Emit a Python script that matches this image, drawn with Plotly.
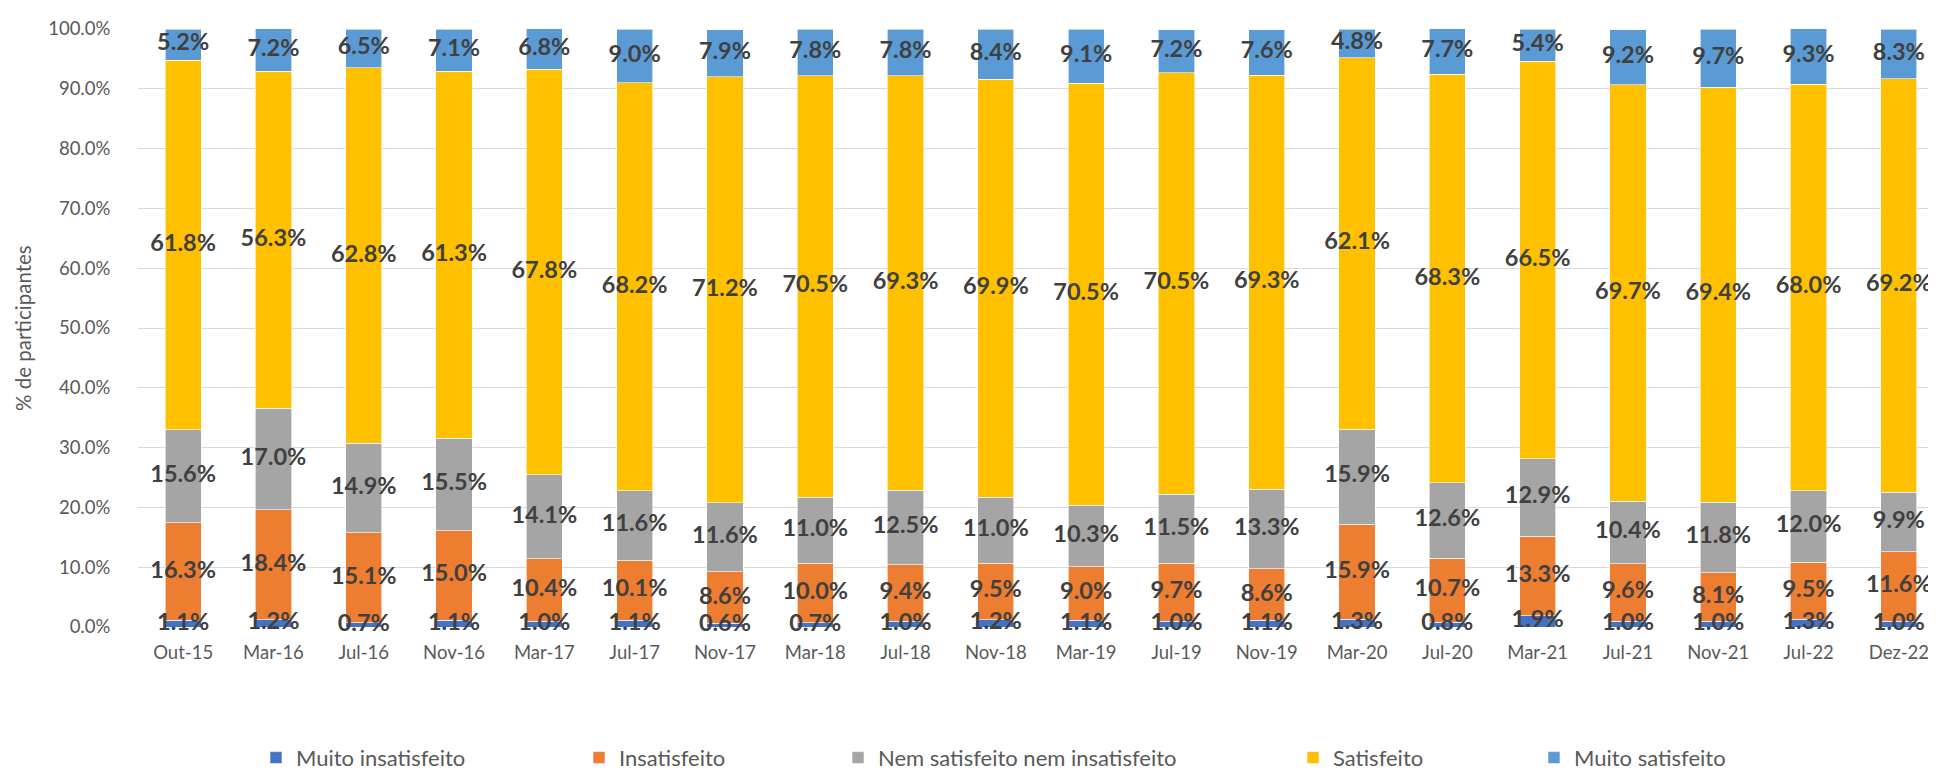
import plotly.graph_objects as go

categories = ["Out-15", "Mar-16", "Jul-16", "Nov-16", "Mar-17", "Jul-17", "Nov-17", "Mar-18",
              "Jul-18", "Nov-18", "Mar-19", "Jul-19", "Nov-19", "Mar-20", "Jul-20", "Mar-21",
              "Jul-21", "Nov-21", "Jul-22", "Dez-22"]

muito_insatisfeito = [1.1, 1.2, 0.7, 1.1, 1.0, 1.1, 0.6, 0.7, 1.0, 1.2, 1.1, 1.0, 1.1, 1.3, 0.8, 1.9, 1.0, 1.0, 1.3, 1.0]
insatisfeito = [16.3, 18.4, 15.1, 15.0, 10.4, 10.1, 8.6, 10.0, 9.4, 9.5, 9.0, 9.7, 8.6, 15.9, 10.7, 13.3, 9.6, 8.1, 9.5, 11.6]
nem = [15.6, 17.0, 14.9, 15.5, 14.1, 11.6, 11.6, 11.0, 12.5, 11.0, 10.3, 11.5, 13.3, 15.9, 12.6, 12.9, 10.4, 11.8, 12.0, 9.9]
satisfeito = [61.8, 56.3, 62.8, 61.3, 67.8, 68.2, 71.2, 70.5, 69.3, 69.9, 70.5, 70.5, 69.3, 62.1, 68.3, 66.5, 69.7, 69.4, 68.0, 69.2]
muito_satisfeito = [5.2, 7.2, 6.5, 7.1, 6.8, 9.0, 7.9, 7.8, 7.8, 8.4, 9.1, 7.2, 7.6, 4.8, 7.7, 5.4, 9.2, 9.7, 9.3, 8.3]

series_names = ["Muito insatisfeito", "Insatisfeito", "Nem satisfeito nem insatisfeito", "Satisfeito", "Muito satisfeito"]
series_values = [muito_insatisfeito, insatisfeito, nem, satisfeito, muito_satisfeito]
colors = ["#4472C4", "#ED7D31", "#A5A5A5", "#FFC000", "#5B9BD5"]
y_ticks = [0, 10, 20, 30, 40, 50, 60, 70, 80, 90, 100]
y_ticktext = [f"{v:.1f}%" for v in y_ticks]

FONT = "Lato, Carlito, 'Liberation Sans', sans-serif"
W, H = 1936, 771
L, R, T, B = 130, 0, 21, 142
plot_w = W - L - R
plot_h = H - T - B

# legend marker left edges in pixels (layout only)
legend_px = [270, 593, 852, 1307, 1548]
legend_ids = ["legend", "legend2", "legend3", "legend4", "legend5"]

fig = go.Figure()
for name, vals, col, lid in zip(series_names, series_values, colors, legend_ids):
    fig.add_trace(go.Bar(
        x=categories, y=vals, name=name, legend=lid,
        marker=dict(color=col, line=dict(color="white", width=0.6)),
        hovertemplate="%{x}: %{y:.1f}%<extra>" + name + "</extra>",
    ))

# data labels drawn on top of all bars, centred in each stacked segment
base = [0.0] * len(categories)
for vals in series_values:
    mids = [b + v / 2 for b, v in zip(base, vals)]
    fig.add_trace(go.Scatter(
        x=categories, y=mids, mode="text", text=[f"{v:.1f}%" for v in vals],
        textposition="middle center", showlegend=False, hoverinfo="skip", cliponaxis=False,
        textfont=dict(family=FONT, size=23.5, color="#404040", weight="bold"),
    ))
    base = [b + v for b, v in zip(base, vals)]

layout_legends = {}
for lid, px in zip(legend_ids, legend_px):
    layout_legends[lid] = dict(
        x=(px - 22 - L) / plot_w, xanchor="left",
        y=(T + plot_h - 762) / plot_h, yanchor="middle",
        orientation="h", bgcolor="rgba(0,0,0,0)", borderwidth=0,
        font=dict(family=FONT, size=22, color="#595959"),
    )

fig.update_layout(
    width=W, height=H,
    margin=dict(l=L, r=R, t=T, b=B, pad=0),
    barmode="stack", bargap=0.6,
    plot_bgcolor="white", paper_bgcolor="white",
    font=dict(family=FONT, color="#595959"),
    showlegend=True,
    **layout_legends,
    xaxis=dict(
        range=[-0.5, 19.5], showgrid=False, showline=False, zeroline=False,
        ticks="outside", ticklen=9, tickcolor="rgba(0,0,0,0)",
        tickfont=dict(family=FONT, size=18.5, color="#595959"),
    ),
    yaxis=dict(
        range=[0, 100], tickvals=y_ticks, ticktext=y_ticktext,
        showgrid=True, gridcolor="#D9D9D9", gridwidth=1.3,
        zeroline=False, showline=False,
        ticks="outside", ticklen=23, tickcolor="rgba(0,0,0,0)",
        tickfont=dict(family=FONT, size=18.5, color="#595959"),
    ),
    annotations=[dict(
        text="% de participantes", xref="paper", yref="paper", x=0, y=0.5,
        xshift=-115, xanchor="center", yanchor="middle", textangle=-90, showarrow=False,
        font=dict(family=FONT, size=20.5, color="#595959"),
    )],
)

fig.write_html("out.html")
